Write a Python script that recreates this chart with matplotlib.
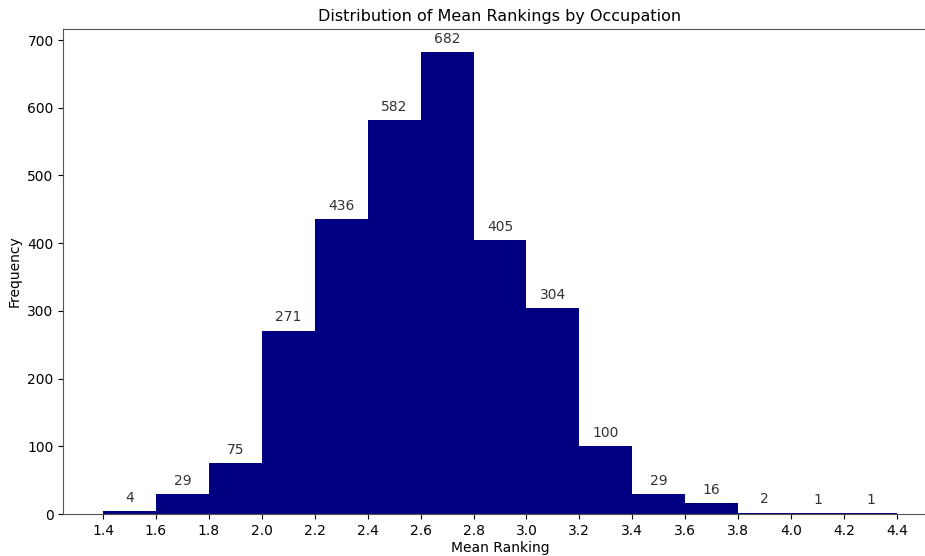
import numpy as np
import matplotlib
matplotlib.use("Agg")
import matplotlib.pyplot as plt

# границы интервалов и частоты
bin_edges = [1.4, 1.6, 1.8, 2.0, 2.2, 2.4, 2.6, 2.8, 3.0, 3.2, 3.4, 3.6, 3.8, 4.0, 4.2, 4.4]
counts = [4, 29, 75, 271, 436, 582, 682, 405, 304, 100, 29, 16, 2, 1, 1]

fig = plt.figure(figsize=(9.25, 5.56), dpi=100)
ax = fig.add_axes([0.0685, 0.0755, 0.944, 0.872])

centers = [(a + b) / 2 for a, b in zip(bin_edges[:-1], bin_edges[1:])]
ax.hist(centers, bins=bin_edges, weights=counts, color='navy', edgecolor='none')

for c, n in zip(centers, counts):
    ax.annotate(str(n), (c, n), xytext=(0, 4.5), textcoords='offset points',
                ha='center', va='bottom', fontsize=10, color='#333333')

ax.set_xticks(bin_edges)
ax.set_xlim(1.25, 4.55)
ax.set_ylim(0, 716)
ax.set_title("Distribution of Mean Rankings by Occupation", fontsize=11.5)
ax.set_xlabel("Mean Ranking", labelpad=2)
ax.set_ylabel("Frequency")

for s in ax.spines.values():
    s.set_color('#555555')

fig.savefig("out.png", dpi=100)
